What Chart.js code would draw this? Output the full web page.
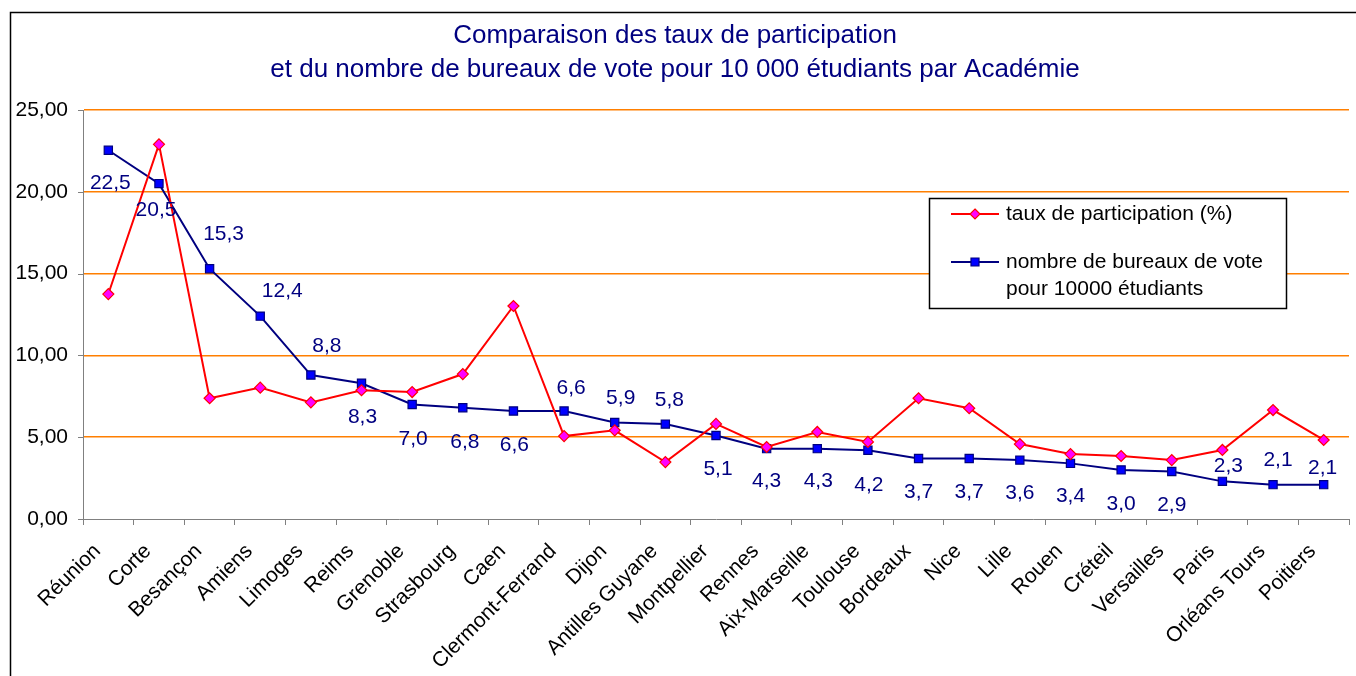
<!DOCTYPE html>
<html>
<head>
<meta charset="utf-8">
<script src="https://cdn.jsdelivr.net/npm/chart.js@4/dist/chart.umd.min.js"></script>
<style>
html,body{margin:0;padding:0;background:#fff;}
#c{display:block;}
</style>
</head>
<body>
<canvas id="c" width="1356" height="676"></canvas>
<script>
const categories = ["Réunion","Corte","Besançon","Amiens","Limoges","Reims","Grenoble","Strasbourg","Caen","Clermont-Ferrand","Dijon","Antilles Guyane","Montpellier","Rennes","Aix-Marseille","Toulouse","Bordeaux","Nice","Lille","Rouen","Créteil","Versailles","Paris","Orléans Tours","Poitiers"];
const participation = [13.75,22.9,7.38,8.03,7.13,7.87,7.76,8.86,13.02,5.07,5.42,3.48,5.81,4.4,5.32,4.71,7.38,6.77,4.58,3.97,3.85,3.6,4.22,6.66,4.83];
const bureaux = [22.54,20.5,15.3,12.4,8.8,8.3,7.0,6.8,6.6,6.6,5.9,5.8,5.1,4.3,4.3,4.2,3.7,3.7,3.6,3.4,3.0,2.9,2.3,2.1,2.1];
const yTicks = [0,5,10,15,20,25];
const titleLines = ["Comparaison des taux de participation","et du nombre de bureaux de vote pour 10 000 étudiants par Académie"];
const seriesNames = ["taux de participation (%)", ["nombre de bureaux de vote","pour 10000 étudiants"]];
// data-label offsets (px) from each point of the bureaux series
const labelDy = [33,27,-34,-25,-29,34,35,34,34,-23,-24,-24,34,33,33,35,34,34,33,33,34,34,-15,-24,-16];
const labelDx = [2,-3,14,22,16,1,1,2,1,7,6,4,2,0,1,1,0,0,0,0,0,0,6,5,-1];

const FONT = "'Liberation Sans', Arial, sans-serif";
const fmt = (v,d)=>v.toFixed(d).replace('.',',');

const framePlugin = {
  id:'frame',
  beforeDraw(chart){
    const ctx = chart.ctx;
    ctx.save();
    ctx.fillStyle='#fff';
    ctx.fillRect(0,0,chart.width,chart.height);
    ctx.strokeStyle='#000';
    ctx.lineWidth=1.5;
    ctx.beginPath();
    ctx.moveTo(10.5,chart.height+2);
    ctx.lineTo(10.5,12.5);
    ctx.lineTo(chart.width+2,12.5);
    ctx.stroke();
    ctx.restore();
  }
};

const yTickMarks = {
  id:'yTickMarks',
  afterDraw(chart){
    const ctx = chart.ctx, y = chart.scales.y, left = chart.chartArea.left;
    ctx.save();
    ctx.strokeStyle='#808080';
    ctx.lineWidth=1;
    yTicks.forEach(v=>{
      const py = Math.round(y.getPixelForValue(v))+0.5;
      ctx.beginPath();ctx.moveTo(left-5,py);ctx.lineTo(left,py);ctx.stroke();
    });
    ctx.restore();
  }
};

const labelPlugin = {
  id:'dataLabels',
  afterDatasetsDraw(chart){
    const ctx = chart.ctx;
    const meta = chart.getDatasetMeta(1);
    ctx.save();
    ctx.fillStyle='#000080';
    ctx.font = "21px " + FONT;
    ctx.textAlign='center';
    ctx.textBaseline='middle';
    meta.data.forEach((pt,i)=>{
      ctx.fillText(fmt(bureaux[i],1), pt.x + labelDx[i], pt.y + labelDy[i]);
    });
    ctx.restore();
  }
};

const legendPlugin = {
  id:'boxLegend',
  afterDraw(chart){
    const ctx = chart.ctx;
    const x0=929, y0=198, w=357, h=110;
    ctx.save();
    ctx.fillStyle='#fff';
    ctx.fillRect(x0,y0,w,h);
    ctx.strokeStyle='#000';
    ctx.lineWidth=1.5;
    ctx.strokeRect(x0+0.5,y0+0.5,w,h);
    const rows=[{y:214, lines:[seriesNames[0]], ds:chart.data.datasets[0]},
                {y:262, lines:seriesNames[1], ds:chart.data.datasets[1]}];
    ctx.font="21px "+FONT;
    ctx.textAlign='left';
    ctx.textBaseline='middle';
    rows.forEach(r=>{
      ctx.strokeStyle=r.ds.borderColor;
      ctx.lineWidth=2;
      ctx.beginPath();ctx.moveTo(951,r.y);ctx.lineTo(999,r.y);ctx.stroke();
      ctx.fillStyle=r.ds.pointBackgroundColor;
      ctx.strokeStyle=r.ds.pointBorderColor;
      ctx.lineWidth=1.2;
      ctx.beginPath();
      if(r.ds.pointStyle==='rectRot'){
        ctx.moveTo(975,r.y-5);ctx.lineTo(980,r.y);ctx.lineTo(975,r.y+5);ctx.lineTo(970,r.y);ctx.closePath();
      } else {
        ctx.rect(971,r.y-4,8,8);
      }
      ctx.fill();ctx.stroke();
      ctx.fillStyle='#000';
      r.lines.forEach((t,k)=>ctx.fillText(t,1006,r.y+k*27));
    });
    ctx.restore();
  }
};

new Chart(document.getElementById('c'),{
  type:'line',
  data:{
    labels:categories,
    datasets:[
      {label:seriesNames[0], data:participation, borderColor:'#FF0000', borderWidth:2,
       pointStyle:'rectRot', pointRadius:5.5, pointBackgroundColor:'#FF00FF', pointBorderColor:'#FF0000', pointBorderWidth:1.2, tension:0, fill:false},
      {label:seriesNames[1].join(' '), data:bureaux, borderColor:'#000080', borderWidth:2,
       pointStyle:'rect', pointRadius:5.8, pointBackgroundColor:'#0000FF', pointBorderColor:'#000080', pointBorderWidth:1.2, tension:0, fill:false}
    ]
  },
  options:{
    responsive:false,
    animation:false,
    devicePixelRatio:1,
    layout:{padding:{left:0,right:6,top:0,bottom:0}},
    plugins:{
      legend:{display:false},
      tooltip:{enabled:false},
      title:{display:true,text:titleLines,color:'#000080',
        font:{family:FONT,size:26,weight:'normal',lineHeight:34/26},
        padding:{top:19,bottom:23}}
    },
    scales:{
      x:{
        offset:true,
        grid:{offset:true,drawOnChartArea:false,color:'#808080',tickLength:6,lineWidth:1},
        border:{color:'#808080',width:1},
        ticks:{minRotation:45,maxRotation:45,autoSkip:false,color:'#000',padding:14,labelOffset:-11,
          font:{family:FONT,size:21}},
        afterFit(s){s.height=157;}
      },
      y:{
        min:0,max:25,
        afterBuildTicks(s){s.ticks=yTicks.map(v=>({value:v}));},
        grid:{color:(c)=>c.tick && c.tick.value===0 ? 'rgba(0,0,0,0)' : '#FF7F00',drawTicks:false,lineWidth:1.5},
        border:{color:'#808080',width:1},
        ticks:{color:'#000',padding:15,font:{family:FONT,size:21},
          callback:(v)=>fmt(v,2)},
        afterFit(s){s.width=83;}
      }
    }
  },
  plugins:[framePlugin,yTickMarks,labelPlugin,legendPlugin]
});
</script>
</body>
</html>
